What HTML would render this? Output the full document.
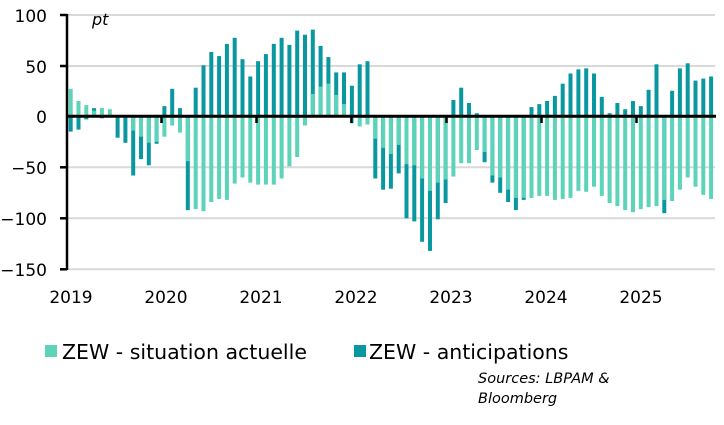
<!DOCTYPE html>
<html><head><meta charset="utf-8"><style>
body{margin:0;background:#fff;width:724px;height:421px;overflow:hidden;font-family:"DejaVu Sans",sans-serif}
</style></head><body>
<svg id="s" width="724" height="421" xmlns="http://www.w3.org/2000/svg" font-family="DejaVu Sans, sans-serif">
<g stroke="#d9d9d9" stroke-width="2">
<line x1="68" x2="715" y1="15" y2="15"/><line x1="68" x2="715" y1="66" y2="66"/>
<line x1="68" x2="715" y1="167.3" y2="167.3"/><line x1="68" x2="715" y1="218.3" y2="218.3"/>
<line x1="68" x2="715" y1="269.3" y2="269.3"/>
</g>
<g id="bars"></g>
<line x1="67" x2="716" y1="116.3" y2="116.3" stroke="#000" stroke-width="3"/>
<g stroke="#000" stroke-width="2.5">
<line x1="67" x2="67" y1="14" y2="270"/>
<line x1="60" x2="67" y1="15" y2="15"/><line x1="60" x2="67" y1="66" y2="66"/>
<line x1="60" x2="67" y1="167.3" y2="167.3"/><line x1="60" x2="67" y1="218.3" y2="218.3"/>
<line x1="60" x2="67" y1="269.3" y2="269.3"/>
<line x1="161.5" x2="161.5" y1="116" y2="123"/><line x1="256.5" x2="256.5" y1="116" y2="123"/>
<line x1="351.5" x2="351.5" y1="116" y2="123"/><line x1="446.5" x2="446.5" y1="116" y2="123"/>
<line x1="541.5" x2="541.5" y1="116" y2="123"/><line x1="636.5" x2="636.5" y1="116" y2="123"/>
</g>
<g font-size="17" text-anchor="end" fill="#000">
<text x="47" y="22">100</text><text x="47" y="73">50</text><text x="47" y="123">0</text>
<text x="47" y="174">−50</text><text x="47" y="225">−100</text><text x="47" y="276">−150</text>
</g>
<text x="92" y="25" font-size="16" font-style="italic">pt</text>
<g font-size="17" text-anchor="middle">
<text x="71" y="303">2019</text><text x="166" y="303">2020</text><text x="261" y="303">2021</text>
<text x="356" y="303">2022</text><text x="451" y="303">2023</text><text x="546" y="303">2024</text>
<text x="641" y="303">2025</text>
</g>
<rect x="45" y="345" width="12" height="12" fill="#5dd3b9"/>
<text x="62" y="359" font-size="20.5">ZEW - situation actuelle</text>
<rect x="354" y="345" width="12" height="12" fill="#0a98a0"/>
<text x="369" y="359" font-size="20.5">ZEW - anticipations</text>
<g font-size="14.5" font-style="italic"><text x="478" y="383">Sources: LBPAM &amp;</text><text x="478" y="403">Bloomberg</text></g>
</svg>
<script>
var L=[27,15,11,5.5,8,7,0,0,-14,-20,-26,-25,-20,-9,-16,-44,-91,-93,-84,-81,-82,-66,-60,-65,-67,-67,-67,-61,-49,-40,-9,22,29,32,21,12,-7,-10,-8,-22,-31,-37,-28,-47,-48,-61,-73,-65,-62,-59,-46,-46,-33,-35,-58,-60,-72,-80,-80,-80,-78,-78,-82,-81,-80,-73,-74,-69,-78,-85,-88,-92,-94,-91,-89,-88,-82,-83,-72,-60,-69,-77,-81];
var D=[-15,-13,-3,8,-2,0,-21,-26,-58,-42,-48,-27,10,27,8,-92,28,50,63,59,71,77,56,39,54,61,71,77,70,84,80,85,69,58,43,43,30,51,54,-61,-72,-71,-56,-100,-103,-123,-132,-101,-85,16,28,13,3,-45,-65,-75,-84,-92,-82,9,12,15,20,32,42,46,47,42,19,3,13,7,15,10,26,51,-95,25,47,52,35,37,39];
var g=document.getElementById('bars'),s='',z=116.3,k=1.02;
function r(x,v,c){if(!v)return;var y=v>0?z-v*k:z,h=Math.abs(v)*k;s+='<rect x="'+(x-2).toFixed(1)+'" y="'+y.toFixed(1)+'" width="4" height="'+h.toFixed(1)+'" fill="'+c+'"/>';}
for(var i=0;i<83;i++){var x=70.7+i*7.81;r(x,D[i],'#0a98a0');r(x,L[i],'#5dd3b9');}
g.innerHTML=s;
</script>
</body></html>
